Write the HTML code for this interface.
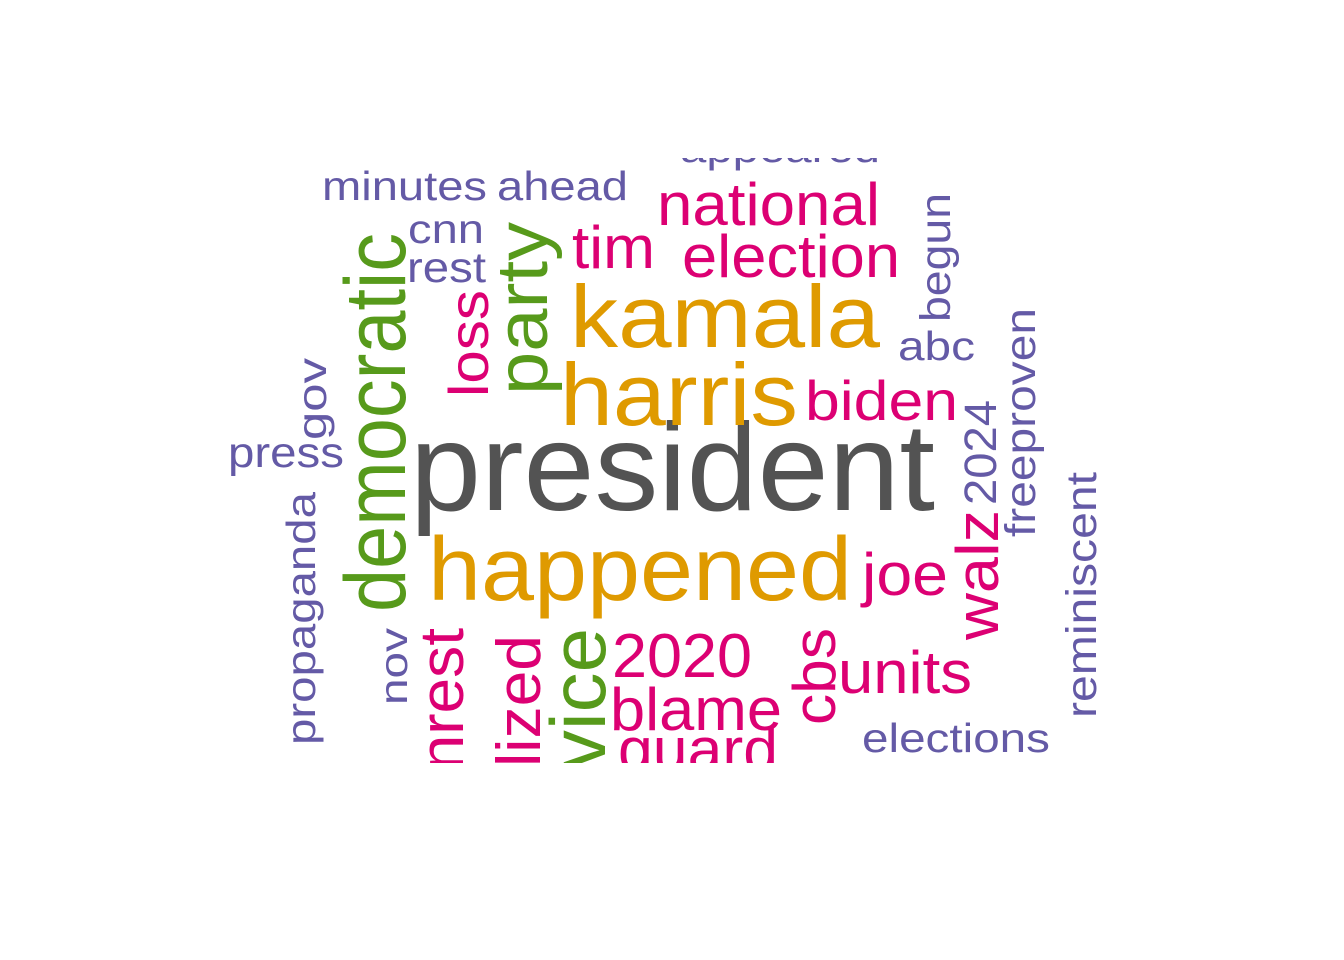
<!DOCTYPE html>
<html><head><meta charset="utf-8"><style>
html,body{margin:0;padding:0;background:#fff;}
svg{display:block;}
text{font-family:"Liberation Sans",Arial,sans-serif;}
</style></head><body>
<svg id="cloud" width="1344" height="960" viewBox="0 0 1344 960" xmlns="http://www.w3.org/2000/svg">
<defs><clipPath id="clip"><rect x="0" y="158" width="1344" height="605"/></clipPath></defs>
<rect width="1344" height="960" fill="#fff"/>
<g id="words" clip-path="url(#clip)"></g>
</svg>
<script>
const words = ["president","happened","kamala","harris","national","election","tim","biden","joe","units","2020","blame","guard","minutes","ahead","cnn","rest","appeared","abc","elections","press","democratic","party","loss","gov","propaganda","nov","unrest","lized","vice","cbs","walz","2024","begun","freeproven","reminiscent"];
const freqs = [124,90,88,88,60,60,60,56,60,60,62,60,60,41,41,41,43,41,41,41,43,86,72,56,41,41,39,62,62,78,60,60,45,43,43,43];
const colorGroup = ["g","o","o","o","p","p","p","p","p","p","p","p","p","u","u","u","u","u","u","u","u","G","G","p","u","u","u","p","p","G","p","p","u","u","u","u"];
const palette = {g:"#535353",o:"#df9a00",p:"#dc0073",G:"#579a1b",u:"#645aa6"};
// layout placement: [x, y, length, rotated]
const layout = [
[410,510,525,0],[428,600,424,0],[570,347,310,0],[560,425,238,0],[657,225,223,0],[682,277,218,0],[572,268,83,0],[805,420,153,0],[862,595,86,0],[838,693,134,0],[612,677,140,0],[610,730,172,0],[618,770,160,0],[322,200,165,0],[497,200,131,0],[408,243,76,0],[407,282,79,0],[680,162,200,0],[898,360,77,0],[862,752,188,0],[228,467,116,0],
[405,612,379,1],[547,395,173,1],[488,397,107,1],[326,440,82,1],[315,745,253,1],[407,705,77,1],[463,806,178,1],[540,767,132,1],[605,770,142,1],[835,725,97,1],[998,640,130,1],[996,505,105,1],[950,322,129,1],[1035,537,229,1],[1096,718,246,1]
];
const g = document.getElementById('words');
const NS = "http://www.w3.org/2000/svg";
words.forEach((w,i)=>{
  const t = document.createElementNS(NS,'text');
  
  
  const [x,y,len,rot] = layout[i];
  t.setAttribute('font-size', freqs[i]);
  t.setAttribute('fill', palette[colorGroup[i]]);
  t.setAttribute('textLength', len);
  t.setAttribute('lengthAdjust', 'spacingAndGlyphs');
  if (rot) {
    t.setAttribute('x', 0); t.setAttribute('y', 0);
    t.setAttribute('transform', `translate(${x},${y}) rotate(-90)`);
  } else {
    t.setAttribute('x', x); t.setAttribute('y', y);
  }
  t.textContent = w;
  g.appendChild(t);
});
</script>
</body></html>
